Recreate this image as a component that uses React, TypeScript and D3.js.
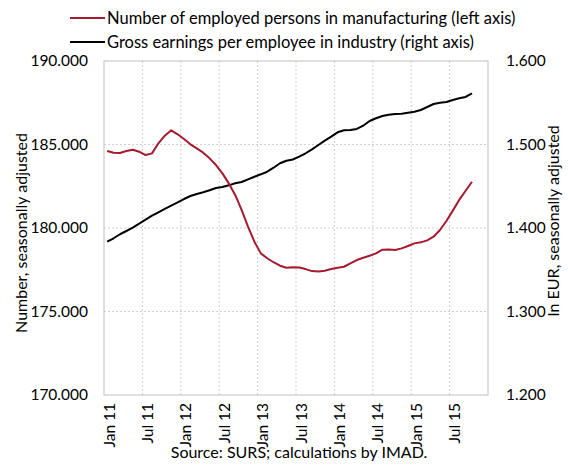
import React from "react";
import * as d3 from "d3";

const categories: string[] = d3
  .timeMonths(new Date(2011, 0, 1), new Date(2016, 0, 1))
  .map((d) => d3.timeFormat("%b %y")(d));

const tickLabels = ["Jan 11", "Jul 11", "Jan 12", "Jul 12", "Jan 13", "Jul 13", "Jan 14", "Jul 14", "Jan 15", "Jul 15"];

const employed = [
  184610, 184510, 184490, 184610, 184690, 184570, 184370, 184470, 185070, 185530,
  185850, 185610, 185330, 185010, 184770, 184510, 184170, 183770, 183270, 182670,
  181980, 181080, 180080, 179180, 178480, 178190, 177950, 177740, 177620, 177650,
  177640, 177540, 177420, 177400, 177440, 177540, 177620, 177680, 177880, 178080,
  178220, 178340, 178480, 178700, 178710, 178680, 178780, 178920, 179080, 179140,
  179260, 179480, 179880, 180420, 181040, 181680, 182230, 182770,
];

const earnings = [
  1.3836, 1.3877, 1.3925, 1.3964, 1.4004, 1.4052, 1.41, 1.4148, 1.4188, 1.4228,
  1.4267, 1.4308, 1.4347, 1.4383, 1.4407, 1.4428, 1.4452, 1.4479, 1.4491, 1.4511,
  1.4535, 1.4551, 1.4583, 1.4614, 1.4643, 1.4674, 1.4722, 1.4775, 1.4806, 1.482,
  1.4854, 1.4895, 1.4942, 1.4994, 1.5046, 1.5094, 1.5146, 1.517, 1.5174, 1.5186,
  1.5225, 1.5281, 1.5314, 1.5341, 1.5355, 1.5365, 1.5369, 1.5381, 1.5393, 1.5413,
  1.5449, 1.5485, 1.5501, 1.5509, 1.5533, 1.5553, 1.5569, 1.5613,
];

const leftTicks = [170000, 175000, 180000, 185000, 190000];
const rightTicks = [1.2, 1.3, 1.4, 1.5, 1.6];

const seriesNames = [
  "Number of employed persons in manufacturing (left axis)",
  "Gross earnings per employee in industry (right axis)",
];
const seriesColors = ["#A6192E", "#000000"];

const W = 568;
const H = 473;
const plot = { left: 104, right: 488, top: 61, bottom: 395 };
const FONT = "Lato, 'Open Sans', sans-serif";

export default function App() {
  const x = d3.scaleBand<string>().domain(categories).range([plot.left, plot.right]).paddingInner(0).paddingOuter(0);
  const bw = x.bandwidth();
  const cx = (i: number) => (x(categories[i]) as number) + bw / 2;
  const yL = d3.scaleLinear().domain([170000, 190000]).range([plot.bottom, plot.top]);
  const yR = d3.scaleLinear().domain([1.2, 1.6]).range([plot.bottom, plot.top]);
  const fmtL = (v: number) => d3.format(",")(v).replace(/,/g, ".");
  const fmtR = (v: number) => d3.format(".3f")(v);

  const lineL = d3.line<number>().x((_, i) => cx(i)).y((d) => yL(d));
  const lineR = d3.line<number>().x((_, i) => cx(i)).y((d) => yR(d));

  const tickIdx = tickLabels.map((t) => categories.indexOf(t));

  return (
    <svg width={W} height={H} style={{ position: "absolute", left: 0, top: 0, background: "#fff" }} fontFamily={FONT}>
      {leftTicks.slice(1, -1).map((t) => (
        <line key={"h" + t} x1={plot.left} x2={plot.right} y1={yL(t)} y2={yL(t)} stroke="#d0d0d0" strokeWidth={1} strokeDasharray="2,2" />
      ))}
      {tickIdx.slice(1).map((i) => (
        <line key={"v" + i} x1={x(categories[i]) as number} x2={x(categories[i]) as number} y1={plot.top} y2={plot.bottom} stroke="#d0d0d0" strokeWidth={1} strokeDasharray="2,2" />
      ))}
      <rect x={plot.left} y={plot.top} width={plot.right - plot.left} height={plot.bottom - plot.top} fill="none" stroke="#c0c0c0" strokeWidth={1} />

      <path d={lineR(earnings) as string} fill="none" stroke={seriesColors[1]} strokeWidth={2} strokeLinejoin="round" />
      <path d={lineL(employed) as string} fill="none" stroke={seriesColors[0]} strokeWidth={2} strokeLinejoin="round" />

      {leftTicks.map((t) => (
        <text key={"l" + t} x={88} y={yL(t)} dy="0.35em" textAnchor="end" fontSize={15.5} fill="#000">
          {fmtL(t)}
        </text>
      ))}
      {rightTicks.map((t) => (
        <text key={"r" + t} x={506} y={yR(t)} dy="0.35em" textAnchor="start" fontSize={15.5} fill="#000">
          {fmtR(t)}
        </text>
      ))}

      {tickIdx.map((i, k) => (
        <text key={"x" + i} transform={`translate(${cx(i) + 2},403) rotate(-90)`} dy="0.35em" textAnchor="end" fontSize={15.5} fill="#000">
          {tickLabels[k]}
        </text>
      ))}

      <text transform={`translate(21,233) rotate(-90)`} dy="0.35em" textAnchor="middle" fontSize={16} fill="#000">
        Number, seasonally adjusted
      </text>
      <text transform={`translate(553,221) rotate(-90)`} dy="0.35em" textAnchor="middle" fontSize={16} fill="#000">
        In EUR, seasonally adjusted
      </text>

      {seriesNames.map((n, i) => (
        <g key={n}>
          <line x1={70} x2={105} y1={18 + i * 24} y2={18 + i * 24} stroke={seriesColors[i]} strokeWidth={2} />
          <text x={107} y={18 + i * 24} dy="0.35em" fontSize={16.5} fill="#000">
            {n}
          </text>
        </g>
      ))}

      <text x={299} y={452} dy="0.35em" textAnchor="middle" fontSize={16} fill="#000">
        Source: SURS; calculations by IMAD.
      </text>
    </svg>
  );
}
